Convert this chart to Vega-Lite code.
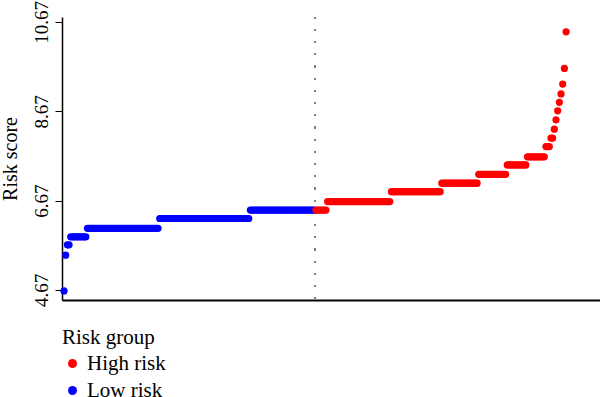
{
  "$schema": "https://vega.github.io/schema/vega-lite/v6.json",
  "width": 538,
  "height": 283,
  "autosize": "none",
  "padding": {"left": 62, "top": 17, "right": 0, "bottom": 97},
  "background": "white",
  "config": {"view": {"stroke": null}, "font": "Liberation Serif"},
  "data": {"values": [
    {"id":1,"score":4.65,"group":"Low risk"},
    {"id":2,"score":5.45,"group":"Low risk"},
    {"id":3,"score":5.68,"group":"Low risk"},{"id":4,"score":5.68,"group":"Low risk"},
    {"id":5,"score":5.86,"group":"Low risk"},{"id":6,"score":5.86,"group":"Low risk"},{"id":7,"score":5.86,"group":"Low risk"},{"id":8,"score":5.86,"group":"Low risk"},{"id":9,"score":5.86,"group":"Low risk"},{"id":10,"score":5.86,"group":"Low risk"},{"id":11,"score":5.86,"group":"Low risk"},{"id":12,"score":5.86,"group":"Low risk"},{"id":13,"score":5.86,"group":"Low risk"},{"id":14,"score":5.86,"group":"Low risk"},
    {"id":15,"score":6.05,"group":"Low risk"},{"id":16,"score":6.05,"group":"Low risk"},{"id":17,"score":6.05,"group":"Low risk"},{"id":18,"score":6.05,"group":"Low risk"},{"id":19,"score":6.05,"group":"Low risk"},{"id":20,"score":6.05,"group":"Low risk"},{"id":21,"score":6.05,"group":"Low risk"},{"id":22,"score":6.05,"group":"Low risk"},{"id":23,"score":6.05,"group":"Low risk"},{"id":24,"score":6.05,"group":"Low risk"},
    {"id":25,"score":6.05,"group":"Low risk"},{"id":26,"score":6.05,"group":"Low risk"},{"id":27,"score":6.05,"group":"Low risk"},{"id":28,"score":6.05,"group":"Low risk"},{"id":29,"score":6.05,"group":"Low risk"},{"id":30,"score":6.05,"group":"Low risk"},{"id":31,"score":6.05,"group":"Low risk"},{"id":32,"score":6.05,"group":"Low risk"},{"id":33,"score":6.05,"group":"Low risk"},{"id":34,"score":6.05,"group":"Low risk"},
    {"id":35,"score":6.05,"group":"Low risk"},{"id":36,"score":6.05,"group":"Low risk"},{"id":37,"score":6.05,"group":"Low risk"},{"id":38,"score":6.05,"group":"Low risk"},{"id":39,"score":6.05,"group":"Low risk"},{"id":40,"score":6.05,"group":"Low risk"},{"id":41,"score":6.05,"group":"Low risk"},{"id":42,"score":6.05,"group":"Low risk"},{"id":43,"score":6.05,"group":"Low risk"},{"id":44,"score":6.05,"group":"Low risk"},
    {"id":45,"score":6.05,"group":"Low risk"},{"id":46,"score":6.05,"group":"Low risk"},{"id":47,"score":6.05,"group":"Low risk"},{"id":48,"score":6.05,"group":"Low risk"},{"id":49,"score":6.05,"group":"Low risk"},{"id":50,"score":6.05,"group":"Low risk"},{"id":51,"score":6.05,"group":"Low risk"},{"id":52,"score":6.05,"group":"Low risk"},{"id":53,"score":6.05,"group":"Low risk"},{"id":54,"score":6.05,"group":"Low risk"},
    {"id":55,"score":6.05,"group":"Low risk"},{"id":56,"score":6.05,"group":"Low risk"},{"id":57,"score":6.05,"group":"Low risk"},
    {"id":58,"score":6.27,"group":"Low risk"},{"id":59,"score":6.27,"group":"Low risk"},{"id":60,"score":6.27,"group":"Low risk"},{"id":61,"score":6.27,"group":"Low risk"},{"id":62,"score":6.27,"group":"Low risk"},{"id":63,"score":6.27,"group":"Low risk"},{"id":64,"score":6.27,"group":"Low risk"},
    {"id":65,"score":6.27,"group":"Low risk"},{"id":66,"score":6.27,"group":"Low risk"},{"id":67,"score":6.27,"group":"Low risk"},{"id":68,"score":6.27,"group":"Low risk"},{"id":69,"score":6.27,"group":"Low risk"},{"id":70,"score":6.27,"group":"Low risk"},{"id":71,"score":6.27,"group":"Low risk"},{"id":72,"score":6.27,"group":"Low risk"},{"id":73,"score":6.27,"group":"Low risk"},{"id":74,"score":6.27,"group":"Low risk"},
    {"id":75,"score":6.27,"group":"Low risk"},{"id":76,"score":6.27,"group":"Low risk"},{"id":77,"score":6.27,"group":"Low risk"},{"id":78,"score":6.27,"group":"Low risk"},{"id":79,"score":6.27,"group":"Low risk"},{"id":80,"score":6.27,"group":"Low risk"},{"id":81,"score":6.27,"group":"Low risk"},{"id":82,"score":6.27,"group":"Low risk"},{"id":83,"score":6.27,"group":"Low risk"},{"id":84,"score":6.27,"group":"Low risk"},
    {"id":85,"score":6.27,"group":"Low risk"},{"id":86,"score":6.27,"group":"Low risk"},{"id":87,"score":6.27,"group":"Low risk"},{"id":88,"score":6.27,"group":"Low risk"},{"id":89,"score":6.27,"group":"Low risk"},{"id":90,"score":6.27,"group":"Low risk"},{"id":91,"score":6.27,"group":"Low risk"},{"id":92,"score":6.27,"group":"Low risk"},{"id":93,"score":6.27,"group":"Low risk"},{"id":94,"score":6.27,"group":"Low risk"},
    {"id":95,"score":6.27,"group":"Low risk"},{"id":96,"score":6.27,"group":"Low risk"},{"id":97,"score":6.27,"group":"Low risk"},{"id":98,"score":6.27,"group":"Low risk"},{"id":99,"score":6.27,"group":"Low risk"},{"id":100,"score":6.27,"group":"Low risk"},{"id":101,"score":6.27,"group":"Low risk"},{"id":102,"score":6.27,"group":"Low risk"},{"id":103,"score":6.27,"group":"Low risk"},{"id":104,"score":6.27,"group":"Low risk"},
    {"id":105,"score":6.27,"group":"Low risk"},{"id":106,"score":6.27,"group":"Low risk"},{"id":107,"score":6.27,"group":"Low risk"},{"id":108,"score":6.27,"group":"Low risk"},{"id":109,"score":6.27,"group":"Low risk"},{"id":110,"score":6.27,"group":"Low risk"},{"id":111,"score":6.27,"group":"Low risk"},
    {"id":112,"score":6.46,"group":"Low risk"},{"id":113,"score":6.46,"group":"Low risk"},{"id":114,"score":6.46,"group":"Low risk"},
    {"id":115,"score":6.46,"group":"Low risk"},{"id":116,"score":6.46,"group":"Low risk"},{"id":117,"score":6.46,"group":"Low risk"},{"id":118,"score":6.46,"group":"Low risk"},{"id":119,"score":6.46,"group":"Low risk"},{"id":120,"score":6.46,"group":"Low risk"},{"id":121,"score":6.46,"group":"Low risk"},{"id":122,"score":6.46,"group":"Low risk"},{"id":123,"score":6.46,"group":"Low risk"},{"id":124,"score":6.46,"group":"Low risk"},
    {"id":125,"score":6.46,"group":"Low risk"},{"id":126,"score":6.46,"group":"Low risk"},{"id":127,"score":6.46,"group":"Low risk"},{"id":128,"score":6.46,"group":"Low risk"},{"id":129,"score":6.46,"group":"Low risk"},{"id":130,"score":6.46,"group":"Low risk"},{"id":131,"score":6.46,"group":"Low risk"},{"id":132,"score":6.46,"group":"Low risk"},{"id":133,"score":6.46,"group":"Low risk"},{"id":134,"score":6.46,"group":"Low risk"},
    {"id":135,"score":6.46,"group":"Low risk"},{"id":136,"score":6.46,"group":"Low risk"},{"id":137,"score":6.46,"group":"Low risk"},{"id":138,"score":6.46,"group":"Low risk"},{"id":139,"score":6.46,"group":"Low risk"},{"id":140,"score":6.46,"group":"Low risk"},{"id":141,"score":6.46,"group":"Low risk"},{"id":142,"score":6.46,"group":"Low risk"},{"id":143,"score":6.46,"group":"Low risk"},{"id":144,"score":6.46,"group":"Low risk"},
    {"id":145,"score":6.46,"group":"Low risk"},{"id":146,"score":6.46,"group":"Low risk"},{"id":147,"score":6.46,"group":"Low risk"},{"id":148,"score":6.46,"group":"Low risk"},{"id":149,"score":6.46,"group":"Low risk"},{"id":150,"score":6.46,"group":"Low risk"},
    {"id":151,"score":6.46,"group":"High risk"},{"id":152,"score":6.46,"group":"High risk"},{"id":153,"score":6.46,"group":"High risk"},{"id":154,"score":6.46,"group":"High risk"},{"id":155,"score":6.46,"group":"High risk"},{"id":156,"score":6.46,"group":"High risk"},{"id":157,"score":6.46,"group":"High risk"},
    {"id":158,"score":6.65,"group":"High risk"},{"id":159,"score":6.65,"group":"High risk"},{"id":160,"score":6.65,"group":"High risk"},{"id":161,"score":6.65,"group":"High risk"},{"id":162,"score":6.65,"group":"High risk"},{"id":163,"score":6.65,"group":"High risk"},{"id":164,"score":6.65,"group":"High risk"},
    {"id":165,"score":6.65,"group":"High risk"},{"id":166,"score":6.65,"group":"High risk"},{"id":167,"score":6.65,"group":"High risk"},{"id":168,"score":6.65,"group":"High risk"},{"id":169,"score":6.65,"group":"High risk"},{"id":170,"score":6.65,"group":"High risk"},{"id":171,"score":6.65,"group":"High risk"},{"id":172,"score":6.65,"group":"High risk"},{"id":173,"score":6.65,"group":"High risk"},{"id":174,"score":6.65,"group":"High risk"},
    {"id":175,"score":6.65,"group":"High risk"},{"id":176,"score":6.65,"group":"High risk"},{"id":177,"score":6.65,"group":"High risk"},{"id":178,"score":6.65,"group":"High risk"},{"id":179,"score":6.65,"group":"High risk"},{"id":180,"score":6.65,"group":"High risk"},{"id":181,"score":6.65,"group":"High risk"},{"id":182,"score":6.65,"group":"High risk"},{"id":183,"score":6.65,"group":"High risk"},{"id":184,"score":6.65,"group":"High risk"},
    {"id":185,"score":6.65,"group":"High risk"},{"id":186,"score":6.65,"group":"High risk"},{"id":187,"score":6.65,"group":"High risk"},{"id":188,"score":6.65,"group":"High risk"},{"id":189,"score":6.65,"group":"High risk"},{"id":190,"score":6.65,"group":"High risk"},{"id":191,"score":6.65,"group":"High risk"},{"id":192,"score":6.65,"group":"High risk"},{"id":193,"score":6.65,"group":"High risk"},{"id":194,"score":6.65,"group":"High risk"},
    {"id":195,"score":6.65,"group":"High risk"},
    {"id":196,"score":6.87,"group":"High risk"},{"id":197,"score":6.87,"group":"High risk"},{"id":198,"score":6.87,"group":"High risk"},{"id":199,"score":6.87,"group":"High risk"},{"id":200,"score":6.87,"group":"High risk"},{"id":201,"score":6.87,"group":"High risk"},{"id":202,"score":6.87,"group":"High risk"},{"id":203,"score":6.87,"group":"High risk"},{"id":204,"score":6.87,"group":"High risk"},
    {"id":205,"score":6.87,"group":"High risk"},{"id":206,"score":6.87,"group":"High risk"},{"id":207,"score":6.87,"group":"High risk"},{"id":208,"score":6.87,"group":"High risk"},{"id":209,"score":6.87,"group":"High risk"},{"id":210,"score":6.87,"group":"High risk"},{"id":211,"score":6.87,"group":"High risk"},{"id":212,"score":6.87,"group":"High risk"},{"id":213,"score":6.87,"group":"High risk"},{"id":214,"score":6.87,"group":"High risk"},
    {"id":215,"score":6.87,"group":"High risk"},{"id":216,"score":6.87,"group":"High risk"},{"id":217,"score":6.87,"group":"High risk"},{"id":218,"score":6.87,"group":"High risk"},{"id":219,"score":6.87,"group":"High risk"},{"id":220,"score":6.87,"group":"High risk"},{"id":221,"score":6.87,"group":"High risk"},{"id":222,"score":6.87,"group":"High risk"},{"id":223,"score":6.87,"group":"High risk"},{"id":224,"score":6.87,"group":"High risk"},
    {"id":225,"score":6.87,"group":"High risk"},
    {"id":226,"score":7.06,"group":"High risk"},{"id":227,"score":7.06,"group":"High risk"},{"id":228,"score":7.06,"group":"High risk"},{"id":229,"score":7.06,"group":"High risk"},{"id":230,"score":7.06,"group":"High risk"},{"id":231,"score":7.06,"group":"High risk"},{"id":232,"score":7.06,"group":"High risk"},{"id":233,"score":7.06,"group":"High risk"},{"id":234,"score":7.06,"group":"High risk"},
    {"id":235,"score":7.06,"group":"High risk"},{"id":236,"score":7.06,"group":"High risk"},{"id":237,"score":7.06,"group":"High risk"},{"id":238,"score":7.06,"group":"High risk"},{"id":239,"score":7.06,"group":"High risk"},{"id":240,"score":7.06,"group":"High risk"},{"id":241,"score":7.06,"group":"High risk"},{"id":242,"score":7.06,"group":"High risk"},{"id":243,"score":7.06,"group":"High risk"},{"id":244,"score":7.06,"group":"High risk"},
    {"id":245,"score":7.06,"group":"High risk"},{"id":246,"score":7.06,"group":"High risk"},{"id":247,"score":7.06,"group":"High risk"},
    {"id":248,"score":7.26,"group":"High risk"},{"id":249,"score":7.26,"group":"High risk"},{"id":250,"score":7.26,"group":"High risk"},{"id":251,"score":7.26,"group":"High risk"},{"id":252,"score":7.26,"group":"High risk"},{"id":253,"score":7.26,"group":"High risk"},{"id":254,"score":7.26,"group":"High risk"},
    {"id":255,"score":7.26,"group":"High risk"},{"id":256,"score":7.26,"group":"High risk"},{"id":257,"score":7.26,"group":"High risk"},{"id":258,"score":7.26,"group":"High risk"},{"id":259,"score":7.26,"group":"High risk"},{"id":260,"score":7.26,"group":"High risk"},{"id":261,"score":7.26,"group":"High risk"},{"id":262,"score":7.26,"group":"High risk"},{"id":263,"score":7.26,"group":"High risk"},{"id":264,"score":7.26,"group":"High risk"},
    {"id":265,"score":7.47,"group":"High risk"},{"id":266,"score":7.47,"group":"High risk"},{"id":267,"score":7.47,"group":"High risk"},{"id":268,"score":7.47,"group":"High risk"},{"id":269,"score":7.47,"group":"High risk"},{"id":270,"score":7.47,"group":"High risk"},{"id":271,"score":7.47,"group":"High risk"},{"id":272,"score":7.47,"group":"High risk"},{"id":273,"score":7.47,"group":"High risk"},{"id":274,"score":7.47,"group":"High risk"},
    {"id":275,"score":7.47,"group":"High risk"},{"id":276,"score":7.47,"group":"High risk"},
    {"id":277,"score":7.65,"group":"High risk"},{"id":278,"score":7.65,"group":"High risk"},{"id":279,"score":7.65,"group":"High risk"},{"id":280,"score":7.65,"group":"High risk"},{"id":281,"score":7.65,"group":"High risk"},{"id":282,"score":7.65,"group":"High risk"},{"id":283,"score":7.65,"group":"High risk"},{"id":284,"score":7.65,"group":"High risk"},
    {"id":285,"score":7.65,"group":"High risk"},{"id":286,"score":7.65,"group":"High risk"},{"id":287,"score":7.65,"group":"High risk"},
    {"id":288,"score":7.88,"group":"High risk"},{"id":289,"score":7.88,"group":"High risk"},{"id":290,"score":7.88,"group":"High risk"},
    {"id":291,"score":8.07,"group":"High risk"},{"id":292,"score":8.07,"group":"High risk"},
    {"id":293,"score":8.27,"group":"High risk"},
    {"id":294,"score":8.48,"group":"High risk"},
    {"id":295,"score":8.68,"group":"High risk"},
    {"id":296,"score":8.87,"group":"High risk"},
    {"id":297,"score":9.06,"group":"High risk"},
    {"id":298,"score":9.28,"group":"High risk"},
    {"id":299,"score":9.63,"group":"High risk"},
    {"id":300,"score":10.45,"group":"High risk"}
  ]},
  "layer": [
    {
      "mark": {"type": "rule", "color": "#808080", "strokeDash": [1.5, 10.7], "strokeWidth": 1.5},
      "encoding": {
        "x": {"datum": 150.5, "type": "quantitative"}
      }
    },
    {
      "mark": {"type": "circle", "size": 52, "opacity": 1},
      "encoding": {
        "x": {
          "field": "id",
          "type": "quantitative",
          "scale": {"domain": [-0.19, 320.2], "nice": false, "zero": false},
          "axis": {"ticks": false, "labels": false, "title": null, "grid": false, "domainColor": "black", "domainWidth": 2}
        },
        "y": {
          "field": "score",
          "type": "quantitative",
          "scale": {"domain": [4.446, 10.781], "nice": false, "zero": false},
          "axis": {
            "values": [4.67, 6.67, 8.67, 10.67],
            "format": ".2f",
            "grid": false,
            "labelAngle": -90,
            "labelAlign": "center",
            "labelBaseline": "bottom",
            "labelFont": "Liberation Serif",
            "labelFontSize": 19,
            "labelColor": "black",
            "labelPadding": 4,
            "tickColor": "black",
            "tickSize": 7,
            "tickWidth": 1,
            "domainColor": "black",
            "domainWidth": 1.5,
            "title": "Risk score",
            "titleFont": "Liberation Serif",
            "titleFontSize": 20,
            "titleFontWeight": "normal",
            "titleColor": "black",
            "titlePadding": 12
          }
        },
        "color": {
          "field": "group",
          "type": "nominal",
          "scale": {"domain": ["High risk", "Low risk"], "range": ["#FF0000", "#0000FF"]},
          "legend": {
            "orient": "none",
            "legendX": 0,
            "legendY": 310,
            "title": "Risk group",
            "titleFont": "Liberation Serif",
            "titleFontSize": 21,
            "titleFontWeight": "normal",
            "titleColor": "black",
            "titlePadding": 5,
            "labelFont": "Liberation Serif",
            "labelFontSize": 21,
            "labelColor": "black",
            "labelOffset": 4,
            "rowPadding": 5,
            "padding": 0,
            "symbolType": "circle",
            "symbolSize": 80,
            "symbolStrokeWidth": 0,
            "symbolOpacity": 1
          }
        }
      }
    }
  ]
}
